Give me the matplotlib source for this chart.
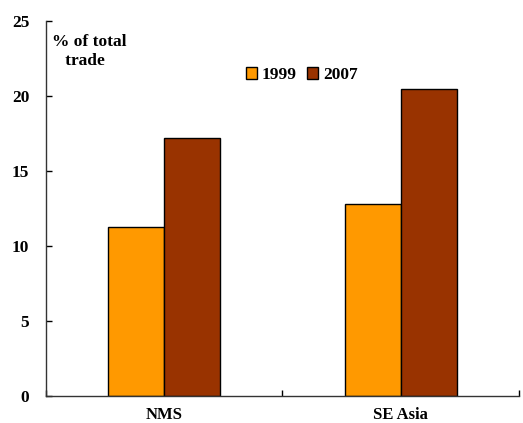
import numpy as np
import matplotlib
matplotlib.use("Agg")
import matplotlib.pyplot as plt

categories = ["NMS", "SE Asia"]
years = ["1999", "2007"]
values_1999 = [11.3, 12.8]
values_2007 = [17.2, 20.5]
colors = ["#FF9900", "#993300"]

plt.rcParams["font.family"] = ["Liberation Serif", "DejaVu Serif"]
plt.rcParams["font.weight"] = "bold"

fig = plt.figure(figsize=(5.23, 4.23), dpi=100)
ax = fig.add_axes([0.088, 0.064, 0.904, 0.886])

x = np.arange(len(categories))
w = 0.237
ax.bar(x - w / 2, values_1999, w, color=colors[0], edgecolor="black", linewidth=1, label=years[0])
ax.bar(x + w / 2, values_2007, w, color=colors[1], edgecolor="black", linewidth=1, label=years[1])

ax.set_xlim(-0.5, 1.5)
ax.set_ylim(0, 25)
ax.set_yticks([0, 5, 10, 15, 20, 25])
ax.set_xticks([-0.5, 0.5, 1.5])
ax.set_xticklabels([])
ax.set_xticks(x, minor=True)
ax.set_xticklabels(categories, minor=True, fontsize=12, fontweight="bold")
ax.tick_params(axis="x", which="minor", length=0, pad=8)
ax.tick_params(axis="both", which="major", direction="in", length=4, width=1, labelsize=12.5)
ax.tick_params(axis="y", pad=12)
for lab in ax.get_yticklabels():
    lab.set_fontweight("bold")

for s in ["top", "right"]:
    ax.spines[s].set_visible(False)
for s in ["left", "bottom"]:
    ax.spines[s].set_linewidth(1)
    ax.spines[s].set_color("#333333")

ax.text(0.013, 0.965, "% of total\n   trade", transform=ax.transAxes, fontsize=12.5,
        fontweight="bold", va="top", ha="left", linespacing=1.25)

ax.legend(loc="center", bbox_to_anchor=(0.541, 0.856), frameon=False, ncol=2,
          handlelength=0.6, handleheight=0.6, handletextpad=0.3, columnspacing=0.6,
          prop={"size": 12.5, "weight": "bold"})

fig.savefig("out.png", dpi=100)
